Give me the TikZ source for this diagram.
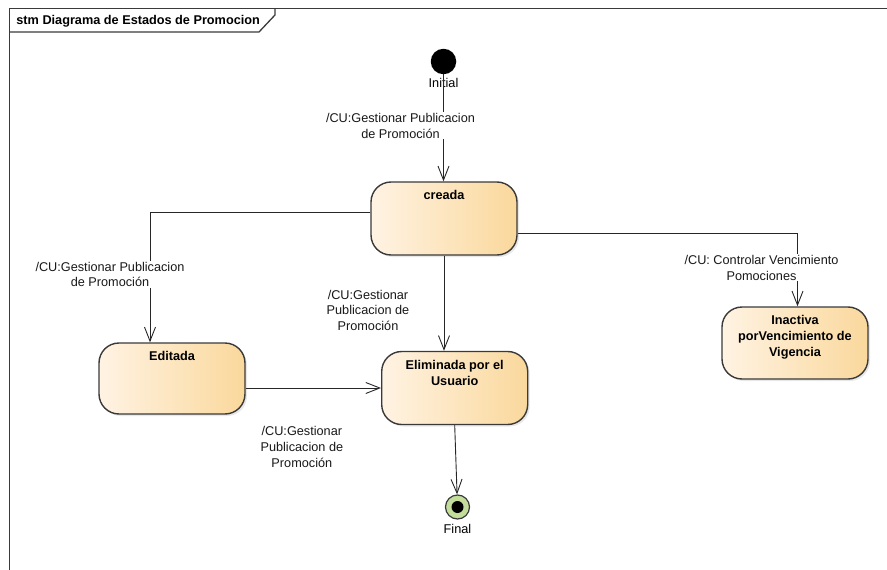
\documentclass[tikz,border=0pt]{standalone}
\usepackage{fontspec}
\setmainfont{Liberation Sans}
\usetikzlibrary{arrows.meta,positioning,shadows}
\definecolor{stateL}{HTML}{FFF3E3}
\definecolor{stateR}{HTML}{FAD89C}
\definecolor{edgegray}{HTML}{3A3A3A}
\definecolor{finalgreen}{HTML}{C3DE9B}
\tikzset{
  statebox/.style={draw=edgegray,line width=1.4pt,rounded corners=20pt,left color=stateL,right color=stateR,minimum width=146pt,minimum height=73pt,drop shadow={opacity=0.18,shadow xshift=2pt,shadow yshift=-2pt}},
  statename/.style={anchor=north,font=\bfseries,align=center,inner sep=6pt,label distance=-3pt},
  trans/.style={draw=black!85,line width=0.9pt,-{Straight Barb[length=14pt,width=11pt,line width=0.9pt]}},
  guard/.style={fill=white,align=center,inner sep=1pt,text=black!90}
}
\begin{document}
\fontsize{12.7}{15.8}\selectfont
\begin{tikzpicture}[x=1pt,y=-1pt]
\useasboundingbox (0,0) rectangle (887,570);
\draw[edgegray,line width=1.3pt] (9.5,570) -- (9.5,8.5) -- (887,8.5);
\draw[edgegray,line width=1.3pt] (9.5,32) -- (259,32) -- (275,15) -- (275,8.5);
\node[anchor=west,font=\bfseries] (ttl) at (12,21.5) {stm Diagrama de Estados de Promocion};

\node[circle,fill=black,minimum size=25.5pt,inner sep=0pt,label={[label distance=-0.5pt]below:Initial}] (ini) at (443.5,61.5) {};
\node[statebox,label={[statename]north:creada}] (cr) at (444,218.5) {};
\node[statebox,minimum height=71pt,label={[statename]north:Editada}] (ed) at (172,378.5) {};
\node[statebox,label={[statename]north:Eliminada por el\\Usuario}] (el) at (454.7,388) {};
\node[statebox,minimum height=72pt,label={[statename]north:Inactiva\\porVencimiento de\\Vigencia}] (in) at (795,343) {};
\node[circle,draw=edgegray,line width=1.2pt,fill=finalgreen,minimum size=24pt,inner sep=0pt,label={[label distance=0pt]below:Final}] (fin) at (457.5,507) {};
\fill[black] (fin) circle (6pt);

\draw[trans] (ini) -- node[guard,pos=0.48,xshift=-43pt] {/CU:Gestionar Publicacion\\de Promoción} (ini |- cr.north);
\draw[trans] ([yshift=6.5pt]cr.west) -| node[guard,pos=0.74,xshift=-40pt] {/CU:Gestionar Publicacion\\de Promoción} ([xshift=-22pt]ed.north);
\draw[trans] (cr.south) -- node[guard,pos=0.575,xshift=-76pt] {/CU:Gestionar\\Publicacion de\\Promoción} (cr.south |- el.north);
\draw[trans] ([yshift=-14.5pt]cr.east) -| node[guard,pos=0.737,xshift=-36pt] {/CU: Controlar Vencimiento\\Pomociones} ([xshift=2.5pt]in.north);
\draw[trans] (ed.east |- el.west) -- node[guard,pos=0.415,yshift=-58.7pt] {/CU:Gestionar\\Publicacion de\\Promoción} (el.west);
\draw[trans] (el.south) -- (fin);
\end{tikzpicture}
\end{document}
